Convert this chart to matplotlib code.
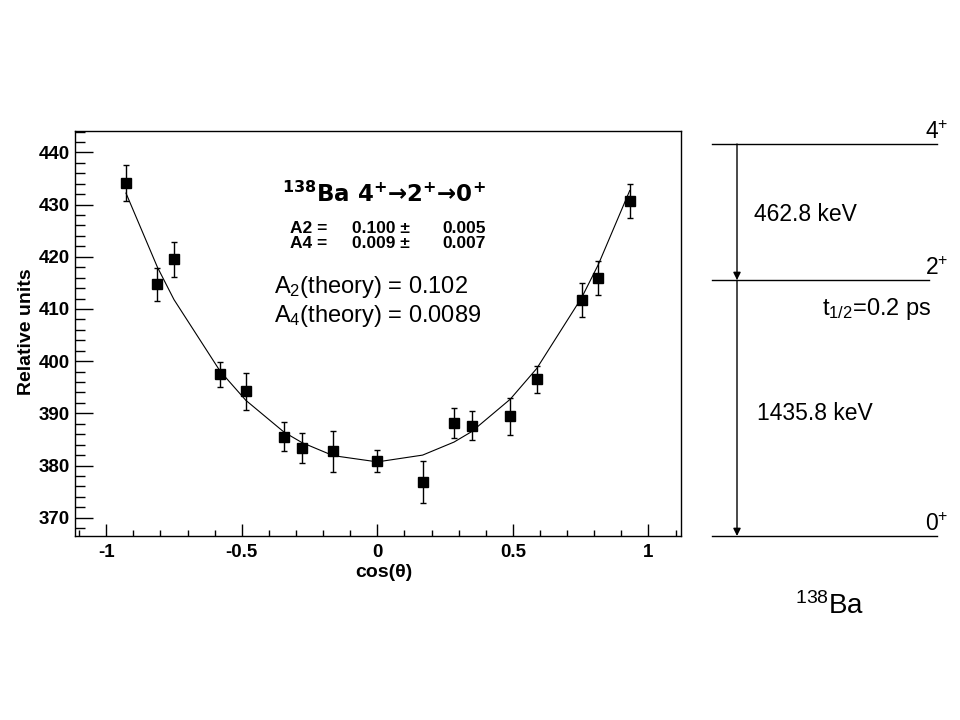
# angular correlation of 138Ba 4+ -> 2+ -> 0+ cascade, with level scheme
import matplotlib
matplotlib.use('Agg')
import matplotlib.pyplot as plt
from matplotlib.ticker import MultipleLocator

plt.rcParams['font.family'] = ['Liberation Sans', 'DejaVu Sans']
plt.rcParams['mathtext.fontset'] = 'custom'
plt.rcParams['mathtext.rm'] = 'Liberation Sans'
plt.rcParams['mathtext.bf'] = 'Liberation Sans:bold'
plt.rcParams['mathtext.default'] = 'regular'

# measured points
cos_theta = [-0.927, -0.811, -0.750, -0.580, -0.485, -0.344, -0.278, -0.163, 0.0,
             0.167, 0.283, 0.348, 0.490, 0.588, 0.754, 0.815, 0.931]
counts = [434.1, 414.7, 419.5, 397.5, 394.2, 385.5, 383.3, 382.7, 380.8,
          376.8, 388.1, 387.6, 389.4, 396.5, 411.7, 415.9, 430.7]
errors = [3.5, 3.2, 3.4, 2.4, 3.5, 2.75, 2.9, 4.0, 2.1,
          4.0, 2.85, 2.8, 3.5, 2.6, 3.3, 3.2, 3.3]
# fitted curve read at the same cos(theta) values
fit_vals = [432.2, 418.0, 411.8, 398.1, 392.5, 386.4, 384.4, 381.9, 380.7,
            382.0, 384.5, 386.5, 392.7, 398.6, 412.2, 418.5, 432.7]

title = '$^{138}$Ba 4$^{+}$\u21922$^{+}$\u21920$^{+}$'
fit_lines = [('A2 =', '0.100 \u00b1', '0.005'), ('A4 =', '0.009 \u00b1', '0.007')]
theory_lines = ['A$_2$(theory) = 0.102', 'A$_4$(theory) = 0.0089']

# level scheme
level_names = ['4$^{+}$', '2$^{+}$', '0$^{+}$']
gamma_names = ['462.8 keV', '1435.8 keV']
half_life = 't$_{1/2}$=0.2 ps'
nucleus = '$^{138}$Ba'

W, H = 960, 720
fig = plt.figure(figsize=(9.6, 7.2), dpi=100)

def fx(x):
    return x / W

def fy(y):
    return 1 - y / H

ax = fig.add_axes([fx(75), fy(536), fx(681) - fx(75), fy(131) - fy(536)])
ax.plot(cos_theta, fit_vals, color='black', lw=0.8)
ax.errorbar(cos_theta, counts, yerr=errors, fmt='s', color='black', ms=6.5,
            elinewidth=1, capsize=2.5, capthick=1)

ax.set_xlim(-1.115, 1.12)
ax.set_ylim(366.5, 444.1)
ax.xaxis.set_minor_locator(MultipleLocator(0.1))
ax.yaxis.set_major_locator(MultipleLocator(10))
ax.yaxis.set_minor_locator(MultipleLocator(2))
ax.set_xticks([-1, -0.5, 0, 0.5, 1])
ax.set_xticklabels(['-1', '-0.5', '0', '0.5', '1'])
ax.tick_params(axis='y', which='major', direction='in', length=13, width=1, pad=4,
               labelsize=13.5)
ax.tick_params(axis='y', which='minor', direction='in', length=7, width=1)
ax.tick_params(axis='x', which='major', direction='in', length=9, width=1, pad=6,
               labelsize=13.5)
ax.tick_params(axis='x', which='minor', direction='in', length=4.5, width=1)
for lab in ax.get_xticklabels() + ax.get_yticklabels():
    lab.set_fontweight('bold')
for sp in ax.spines.values():
    sp.set_linewidth(1)

fig.text(fx(27), fy(332), 'Relative units', rotation=90, fontsize=14,
         fontweight='bold', ha='center', va='center')
fig.text(fx(384), fy(577), 'cos(\u03b8)', fontsize=14, fontweight='bold',
         ha='center', va='baseline')

# fit results text
fig.text(fx(282), fy(202), title, fontsize=16.5, fontweight='bold',
         family='DejaVu Sans', ha='left', va='baseline')
for i, (a, b, c) in enumerate(fit_lines):
    yb = 233 + 15 * i
    fig.text(fx(290), fy(yb), a, fontsize=12.5, fontweight='bold', va='baseline')
    fig.text(fx(352), fy(yb), b, fontsize=12.5, fontweight='bold', va='baseline')
    fig.text(fx(442), fy(yb), c, fontsize=12.5, fontweight='bold', va='baseline')
for i, s in enumerate(theory_lines):
    fig.text(fx(274), fy(293 + 28.5 * i), s, fontsize=17, va='baseline')

# level scheme drawn in pixel coordinates
lv = fig.add_axes([0, 0, 1, 1])
lv.set_xlim(0, W)
lv.set_ylim(H, 0)
lv.axis('off')
lv.patch.set_alpha(0)

level_y = [144, 280, 536]
level_right = [937, 929, 937]
for name, y, xr in zip(level_names, level_y, level_right):
    lv.plot([712, xr], [y, y], color='black', lw=1)
    lv.text(948, y - 5, name, fontsize=16.5, ha='right', va='baseline')

arrow_x = 737
for k in range(len(gamma_names)):
    lv.annotate('', xy=(arrow_x, level_y[k + 1]), xytext=(arrow_x, level_y[k]),
                arrowprops=dict(arrowstyle='-|>', color='black', lw=1,
                                mutation_scale=11, shrinkA=0, shrinkB=0))
gamma_pos = [(754, 221), (757, 420)]
for name, (x, y) in zip(gamma_names, gamma_pos):
    lv.text(x, y, name, fontsize=16.5, ha='left', va='baseline')

lv.text(822, 315, half_life, fontsize=17, ha='left', va='baseline')
lv.text(830, 614, nucleus, fontsize=20, ha='center', va='baseline')

fig.savefig('out.png', dpi=100)
